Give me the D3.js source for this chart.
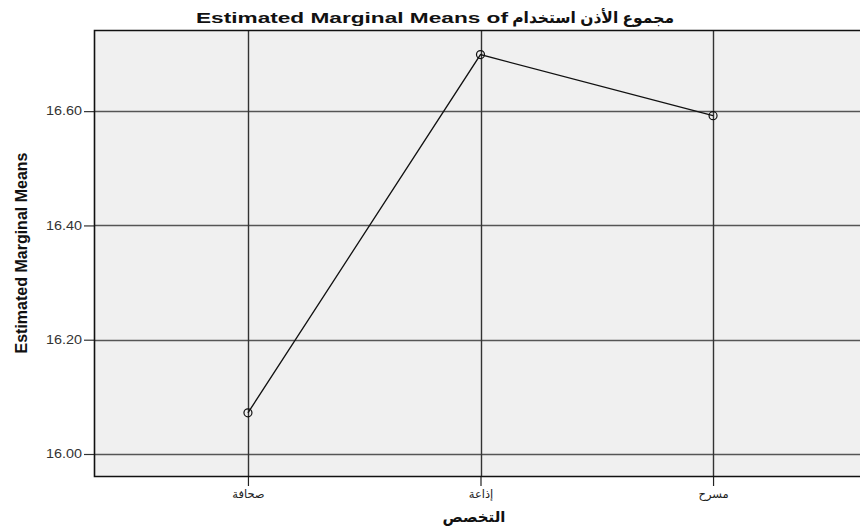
<!DOCTYPE html>
<html><head><meta charset="utf-8">
<script src="https://cdn.jsdelivr.net/npm/d3@7"></script>
<style>html,body{margin:0;padding:0;background:#fff;}svg{display:block;}</style>
</head><body>
<svg id="c" width="860" height="529"></svg>
<script>
const categories = ["صحافة", "إذاعة", "مسرح"];
const means = [16.072, 16.699, 16.592];
const yTicks = [16.00, 16.20, 16.40, 16.60];
const titleLatin = "Estimated Marginal Means of";
const titleArabic = "مجموع الأذن استخدام";
const xTitle = "التخصص";
const yTitle = "Estimated Marginal Means";

const svg = d3.select("#c");
const L = 94, T = 30, R = 867, B = 476;
const font = "'Liberation Sans', Arial, 'DejaVu Sans', sans-serif";

const x = d3.scalePoint().domain(categories).range([L, R]).padding(0.662);
const y = d3.scaleLinear().domain([15.9615, 16.742]).range([B, T]);

svg.append("rect").attr("x", L).attr("y", T).attr("width", R - L).attr("height", B - T)
  .attr("fill", "#f0f0f0");

// horizontal gridlines
svg.append("g").selectAll("line").data(yTicks).join("line")
  .attr("x1", L).attr("x2", R)
  .attr("y1", d => Math.round(y(d)) + 0.5).attr("y2", d => Math.round(y(d)) + 0.5)
  .attr("stroke", "#555").attr("stroke-width", 1.4);

// vertical gridlines
svg.append("g").selectAll("line").data(categories).join("line")
  .attr("x1", d => Math.round(x(d)) + 0.5).attr("x2", d => Math.round(x(d)) + 0.5)
  .attr("y1", T).attr("y2", B)
  .attr("stroke", "#333").attr("stroke-width", 1.4);

// axes
const yAxis = d3.axisLeft(y).tickValues(yTicks).tickFormat(d3.format(".2f")).tickSize(10).tickPadding(2);
const gy = svg.append("g").attr("transform", `translate(${L},0)`).call(yAxis);
gy.select(".domain").remove();
gy.selectAll("line").attr("stroke", "#333").attr("stroke-width", 1.2);
gy.selectAll("text").attr("font-family", font).attr("font-size", 12).attr("fill", "#333")
  .attr("textLength", 36).attr("lengthAdjust", "spacingAndGlyphs");

const xAxis = d3.axisBottom(x).tickSize(10).tickPadding(4);
const gx = svg.append("g").attr("transform", `translate(0,${B})`).call(xAxis);
gx.select(".domain").remove();
gx.selectAll("line").attr("stroke", "#222").attr("stroke-width", 1.2);
gx.selectAll("text").attr("font-family", font).attr("font-size", 11.5).attr("fill", "#222");

// border (left, top, bottom)
svg.append("path")
  .attr("d", `M${R},${T + 0.5}H${L + 0.5}V${B + 0.5}H${R}`)
  .attr("fill", "none").attr("stroke", "#111").attr("stroke-width", 1.6);

// line
const pts = categories.map((c, i) => [x(c), y(means[i])]);
svg.append("path").attr("d", d3.line()(pts))
  .attr("fill", "none").attr("stroke", "#111").attr("stroke-width", 1.3);
svg.append("g").selectAll("circle").data(pts).join("circle")
  .attr("cx", d => d[0]).attr("cy", d => d[1]).attr("r", 4)
  .attr("fill", "none").attr("stroke", "#111").attr("stroke-width", 1.2);

// titles
svg.append("text").attr("x", 196).attr("y", 23)
  .attr("font-family", font).attr("font-weight", "bold").attr("font-size", 15).attr("fill", "#111")
  .attr("textLength", 312).attr("lengthAdjust", "spacingAndGlyphs")
  .text(titleLatin);
svg.append("text").attr("x", 674).attr("y", 23).attr("text-anchor", "start").attr("direction", "rtl")
  .attr("font-family", font).attr("font-weight", "bold").attr("font-size", 15.5).attr("fill", "#111")
  .text(titleArabic);

svg.append("text").attr("x", (L + 860) / 2 - 3).attr("y", 522).attr("text-anchor", "middle")
  .attr("font-family", font).attr("font-weight", "bold").attr("font-size", 15).attr("fill", "#111")
  .text(xTitle);

svg.append("text").attr("transform", `translate(27,${253}) rotate(-90)`).attr("text-anchor", "middle")
  .attr("font-family", "'Liberation Sans Narrow', 'Arial Narrow', " + font)
  .attr("font-weight", "bold").attr("font-size", 16).attr("fill", "#111")
  .text(yTitle);
</script>
</body></html>
